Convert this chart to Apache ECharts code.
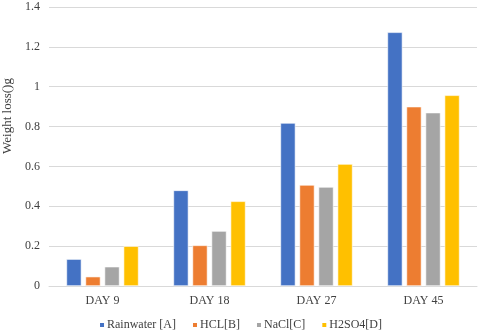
<!DOCTYPE html>
<html>
<head>
<meta charset="utf-8">
<script src="https://cdn.jsdelivr.net/npm/echarts@6/dist/echarts.min.js"></script>
<style>
    html, body { margin: 0; padding: 0; background: #fff; }
    #chart { width: 480px; height: 334px; }
</style>
</head>
<body>
<div id="chart"></div>
<script>
// categories and values
var days = ['DAY 9', 'DAY 18', 'DAY 27', 'DAY 45']
var rainwater = [0.135, 0.48, 0.818, 1.273]
var hcl = [0.047, 0.204, 0.507, 0.9]
var nacl = [0.097, 0.276, 0.497, 0.87]
var h2so4 = [0.2, 0.425, 0.612, 0.957]
var seriesNames = ['Rainwater [A]', 'HCL[B]', 'NaCl[C]', 'H2SO4[D]']
var colors = ['#4472C4', '#ED7D31', '#A5A5A5', '#FFC000']

var font = 'Liberation Serif'
var chart = echarts.init(document.getElementById('chart'))

function bar(name, data, color) {
    return {
        name: name,
        type: 'bar',
        data: data,
        barWidth: 15,
        barGap: '27%',
        itemStyle: { color: color, borderColor: '#fff', borderWidth: 0.6 }
    }
}

var option = {
    animation: false,
    textStyle: { fontFamily: font },
    grid: { left: 49, right: 3, top: 7, bottom: 48 },
    legend: {
        bottom: 3,
        left: 'center',
        padding: 0,
        itemWidth: 6,
        itemHeight: 6,
        itemGap: 15,
        icon: 'rect',
        textStyle: { fontFamily: font, fontSize: 12, color: '#404040', padding: [0, 0, 0, -3] },
        data: seriesNames
    },
    xAxis: {
        type: 'category',
        data: days,
        axisTick: { show: false },
        axisLine: { lineStyle: { color: '#d9d9d9' } },
        axisLabel: { fontFamily: font, fontSize: 12, color: '#404040', margin: 9 }
    },
    yAxis: {
        type: 'value',
        min: 0,
        max: 1.4,
        interval: 0.2,
        axisLine: { show: false },
        axisTick: { show: false },
        axisLabel: { fontFamily: font, fontSize: 12, color: '#404040', margin: 9 },
        splitLine: { lineStyle: { color: '#d9d9d9' } }
    },
    graphic: [{
        type: 'text',
        x: 8,
        y: 116,
        rotation: Math.PI / 2,
        style: {
            text: 'Weight loss()g',
            font: '13px "Liberation Serif"',
            fill: '#404040',
            align: 'center',
            verticalAlign: 'middle'
        }
    }],
    series: [
        bar(seriesNames[0], rainwater, colors[0]),
        bar(seriesNames[1], hcl, colors[1]),
        bar(seriesNames[2], nacl, colors[2]),
        bar(seriesNames[3], h2so4, colors[3])
    ]
}

chart.setOption(option)
</script>
</body>
</html>
